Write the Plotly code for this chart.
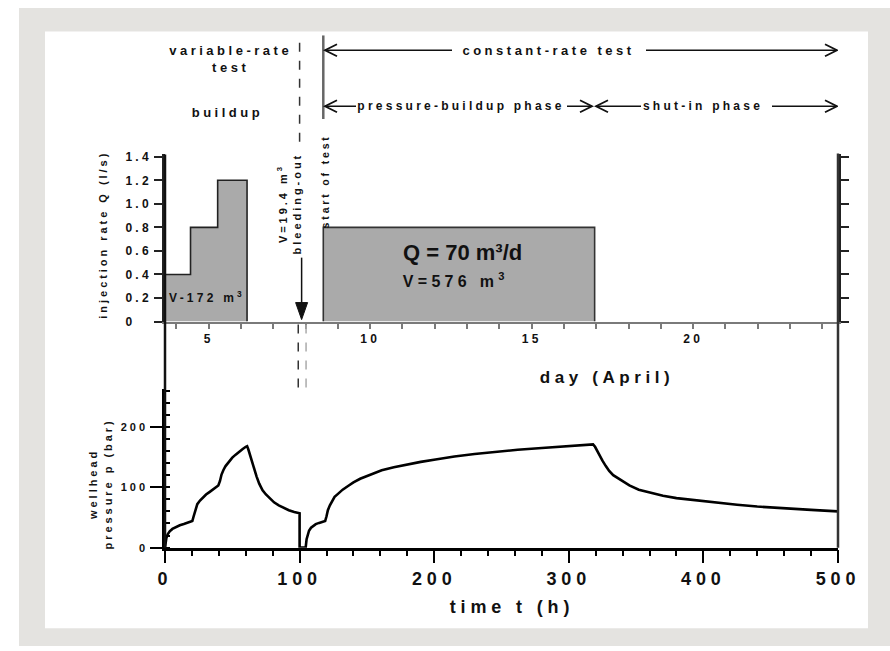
import plotly.graph_objects as go

# ---------------- data ----------------
# upper panel: injection rate schedule (day of April, l/s)
var_day = [3.65, 3.65, 4.44, 5.28, 6.19]      # variable-rate test steps
var_q = [0.0, 0.4, 0.8, 1.2, 0.0]
const_day = [8.55, 8.55, 16.95]               # constant-rate test
const_q = [0.0, 0.8, 0.0]

# lower panel: wellhead pressure (time in h, pressure in bar)
p_time_h = [0, 0.4, 1, 2, 3.5, 5.5, 8, 11, 14, 17, 20.3, 21.3, 22.5, 24, 26, 28, 30.5, 33, 36, 39.6,
            40.8, 42, 43.5, 45, 47.5, 50, 52.5, 55, 57.5, 60, 61, 62, 63, 64.5, 66, 68, 70, 72.5, 75, 78,
            81, 84.5, 88, 92, 96, 100, 100, 104.5, 105.2, 106, 107, 108.5, 110, 112, 114.5, 117, 119, 120,
            121, 122.5, 124, 126, 128.5, 132, 136, 140, 145, 152, 161, 170, 180, 190, 201, 215, 230, 246,
            262, 280, 299, 310, 318, 319.5, 321, 323, 325, 327.5, 330, 333, 336, 340, 345, 352, 360, 370,
            380, 395, 410, 425, 440, 458, 480, 500]
p_bar = [0, 9, 16, 22, 27, 31, 34, 37, 39, 41.5, 44, 52, 62, 72, 78, 83, 88, 92, 97, 103,
         110, 121, 129, 135, 142, 149, 154, 159, 163, 167, 168, 162, 154, 142, 131, 118, 106, 95, 88, 81,
         75, 70, 66, 62, 59, 57, 0, 0, 14, 22, 28, 33, 36, 39, 41, 43, 44, 52,
         62, 70, 77, 84, 89, 96, 102, 108, 114, 120, 128, 133, 138, 142, 146, 151, 155, 159,
         162, 165, 168, 169.5, 171, 167, 160, 152, 144, 135, 127, 120, 116, 110, 103, 96, 91, 86,
         82, 78, 74, 71, 68, 65, 62.5, 60]

day_tick_vals = [5, 10, 15, 20]
q_tick_vals = [0, 0.2, 0.4, 0.6, 0.8, 1.0, 1.2, 1.4]
q_tick_text = ["0\u2008\u2007", "0.2", "0.4", "0.6", "0.8", "1.0", "1.2", "1.4"]
t_tick_vals = [0, 100, 200, 300, 400, 500]
p_tick_vals = [0, 100, 200]

# ---------------- layout helpers ----------------
W, H = 890, 651
ML, MR = 165, 52
PW = W - ML - MR
DAY0 = 3.65
DAY1 = DAY0 + 500 / 24.0


def px(x):
    return (x - ML) / PW


def py(y):
    return 1 - y / H


def pday(x):
    return DAY0 + (x - ML) / PW * (DAY1 - DAY0)


TF = "Liberation Sans"          # tracked (letter-spaced) text
QF = "Arial, Liberation Sans"   # normal text

fig = go.Figure()

fig.add_trace(go.Scatter(
    x=var_day, y=var_q, mode="lines", line=dict(shape="hv", color="#222", width=1.6),
    fill="tozeroy", fillcolor="#aaaaaa", xaxis="x", yaxis="y", showlegend=False, hoverinfo="skip"))
fig.add_trace(go.Scatter(
    x=const_day, y=const_q, mode="lines", line=dict(shape="hv", color="#333", width=1.6),
    fill="tozeroy", fillcolor="#aaaaaa", xaxis="x", yaxis="y", showlegend=False, hoverinfo="skip"))

fig.add_trace(go.Scatter(
    x=p_time_h, y=p_bar, mode="lines", line=dict(color="black", width=2.6),
    xaxis="x2", yaxis="y2", showlegend=False, hoverinfo="skip"))

fig.update_layout(
    width=W, height=H,
    margin=dict(l=ML, r=MR, t=0, b=0),
    paper_bgcolor="white", plot_bgcolor="rgba(0,0,0,0)",
    showlegend=False,
    xaxis=dict(
        domain=[0, 1], anchor="y", range=[DAY0, DAY1],
        tickvals=day_tick_vals, ticks="outside", ticklen=5, tickwidth=1.5, tickcolor="#7a7a7a",
        minor=dict(dtick=1, tick0=0, ticks="outside", ticklen=5, tickwidth=1.5, tickcolor="#7a7a7a"),
        showline=True, linecolor="#7a7a7a", linewidth=2,
        showgrid=False, zeroline=False,
        tickfont=dict(family=TF, size=12, color="#111", weight="bold"),
    ),
    yaxis=dict(
        domain=[py(323), py(153)], anchor="x", range=[0, 1.42],
        tickvals=q_tick_vals, ticktext=q_tick_text,
        ticks="outside", ticklen=8, tickwidth=2, tickcolor="#222",
        showline=True, linecolor="#222", linewidth=2.5, mirror="ticks",
        showgrid=False, zeroline=False,
        tickfont=dict(family=TF, size=12, color="#111", weight="bold"),
    ),
    xaxis2=dict(
        domain=[0, 1], anchor="y2", range=[0, 500],
        tickvals=t_tick_vals, ticks="outside", ticklen=13, tickwidth=2, tickcolor="black",
        minor=dict(dtick=20, tick0=0, ticks="outside", ticklen=6, tickwidth=1.6, tickcolor="black"),
        showline=True, linecolor="black", linewidth=2.5,
        showgrid=False, zeroline=False,
        tickfont=dict(family=TF, size=18, color="#111", weight="bold"),
    ),
    yaxis2=dict(
        domain=[py(553), py(392)], anchor="x2", range=[0, 262],
        tickvals=p_tick_vals, ticks="outside", ticklen=12, tickwidth=2, tickcolor="black",
        minor=dict(dtick=20, tick0=0, ticks="inside", ticklen=5, tickwidth=1.6, tickcolor="black"),
        showline=True, linecolor="black", linewidth=2.5,
        showgrid=False, zeroline=False,
        tickfont=dict(family=TF, size=11, color="#111", weight="bold"),
    ),
)

shapes = [
    # frame
    dict(type="rect", xref="paper", yref="paper", x0=px(19), x1=px(892), y0=py(653), y1=py(4),
         fillcolor="#e4e3e0", line=dict(width=0), layer="below"),
    dict(type="rect", xref="paper", yref="paper", x0=px(45), x1=px(868), y0=py(635), y1=py(28),
         fillcolor="white", line=dict(width=0), layer="below"),
    # continuous side axes
    dict(type="line", xref="paper", yref="paper", x0=0, x1=0, y0=py(553), y1=py(153),
         line=dict(color="#111", width=2.5)),
    dict(type="line", xref="paper", yref="paper", x0=1, x1=1, y0=py(553), y1=py(152),
         line=dict(color="#333", width=2.5)),
    # end of variable-rate test (dashed)
    dict(type="line", xref="x2", yref="paper", x0=100, x1=100, y0=py(140), y1=py(32),
         line=dict(color="#333", width=1.5, dash="dash")),
    dict(type="line", xref="x2", yref="paper", x0=99, x1=99, y0=py(390), y1=py(326),
         line=dict(color="#333", width=1.5, dash="dash")),
    dict(type="line", xref="x2", yref="paper", x0=104.8, x1=104.8, y0=py(390), y1=py(326),
         line=dict(color="#aaa", width=1.5, dash="dash")),
    # start of constant-rate test (solid)
    dict(type="line", xref="x", yref="paper", x0=8.55, x1=8.55, y0=py(117), y1=py(32),
         line=dict(color="#666", width=2.5)),
    # bleeding-out arrow shaft + head
    dict(type="line", xref="x2", yref="paper", x0=101.5, x1=101.5, y0=py(306), y1=py(258),
         line=dict(color="#111", width=1.5)),
    dict(type="path", xref="x2", yref="paper", xsizemode="pixel", ysizemode="pixel",
         xanchor=101.5, yanchor=py(321), path="M -6,17 L 6,17 L 0,0 Z",
         fillcolor="#111", line=dict(color="#111", width=1)),
]


def harrow(head_px, tail_px, y_px):
    """double-line chevron arrow drawn with shapes"""
    hd, tl = pday(head_px), pday(tail_px)
    d = 1 if tail_px > head_px else -1
    return [
        dict(type="line", xref="x", yref="paper", x0=tl, x1=hd, y0=py(y_px), y1=py(y_px),
             line=dict(color="#111", width=1.5)),
        dict(type="path", xref="x", yref="paper", xsizemode="pixel", ysizemode="pixel",
             xanchor=hd, yanchor=py(y_px), path="M %d,6 L 0,0 L %d,-6" % (12 * d, 12 * d),
             line=dict(color="#111", width=1.8)),
    ]


for h_, t_, y_ in [(325, 452, 47), (837, 646, 47), (325, 356, 104), (592, 567, 104),
                   (596, 641, 104), (837, 772, 104)]:
    shapes += harrow(h_, t_, y_)

fig.update_layout(shapes=shapes)


def txt(text, x, y, size, family=TF, angle=0):
    return dict(text=text, x=x, y=y, xref="paper", yref="paper", showarrow=False,
                xanchor="center", yanchor="middle", textangle=angle,
                font=dict(family=family, size=size, color="#111", weight="bold"))


annotations = [
    txt("variable-rate<br>test", px(230), py(56), 13),
    txt("buildup", px(227), py(110), 13),
    txt("constant-rate test", px(549), py(47), 13),
    txt("pressure-buildup phase", px(461), py(104), 12),
    txt("shut-in phase", px(703), py(104), 12),
    txt("start of test", px(325), py(180), 10.5, angle=-90),
    txt("V=19.4 m<sup>3</sup><br>bleeding-out", px(289), py(203), 11, angle=-90),
    txt("V-172 m<sup>3</sup>", px(207), py(298), 12),
    txt("Q = 70 m³/d", px(462), py(253), 22, family=QF),
    txt("V=576 m<sup>3</sup>", px(456), py(281), 16),
    txt("day (April)", px(607), py(380), 17),
    txt("time t (h)", px(512), py(613), 18),
    txt("injection rate Q (l/s)", px(103), py(235), 11, angle=-90),
    txt("wellhead<br>pressure p (bar)", px(100), py(488), 11, angle=-90),
]
fig.update_layout(annotations=annotations)

post = """
document.documentElement.style.margin = '0';
document.body.style.margin = '0';
document.body.style.overflow = 'hidden';
var gd = document.getElementById('{plot_id}');
gd.querySelectorAll('text').forEach(function(t){
  var ff = t.style.fontFamily || '';
  if (ff.indexOf('Arial') < 0) { t.style.letterSpacing = '0.27em'; }
});
"""

fig.write_html("out.html", post_script=post, config={"displayModeBar": False})
